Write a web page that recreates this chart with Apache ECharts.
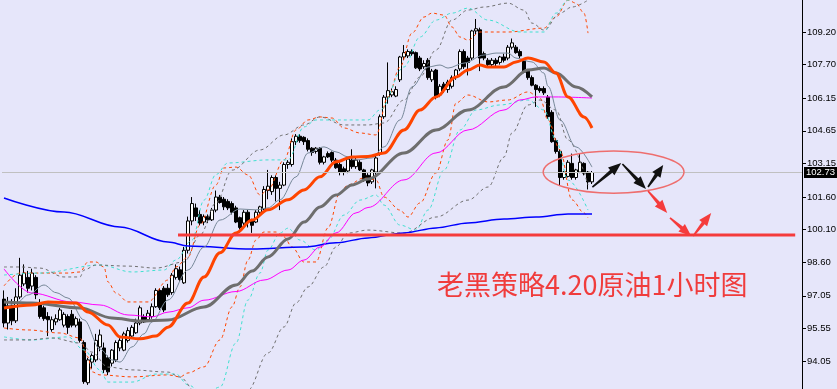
<!DOCTYPE html>
<html><head><meta charset="utf-8">
<script src="https://cdn.jsdelivr.net/npm/echarts@6/dist/echarts.min.js"></script>
<style>html,body{margin:0;padding:0;background:#e6e6fa}#c{width:837px;height:389px}</style>
</head><body><div id="c"></div>
<script>
// ---- candles (1H bars) ----
const open  = [96.9,95.8,96.6,95.9,97.0,97.6,97.9,97.5,97.9,96.7,96.5,96.1,95.5,95.85,95.95,95.7,96.1,96.2,95.7,95.85,
94.9,93.05,94.0,94.1,94.7,94.65,94.2,93.95,94.1,94.65,94.55,95.0,95.2,95.35,95.8,96.1,95.95,96.1,96.55,97.3,
97.4,97.4,97.2,97.9,98.25,97.65,99.15,100.5,101.1,100.8,100.45,100.7,100.55,101.0,101.6,101.5,101.4,101.3,101.1,100.65,
100.4,100.9,100.55,100.45,100.9,101.05,101.9,101.85,102.5,102.0,102.15,103.1,103.1,104.15,104.4,104.35,104.2,103.85,103.7,103.85,
103.2,103.6,103.65,103.3,103.1,102.9,102.8,103.3,103.0,103.2,102.85,102.6,102.3,102.75,103.6,105.3,106.2,106.3,106.25,107.0,
108.05,108.1,108.3,108.25,108.0,107.6,107.9,107.0,107.45,106.3,106.8,106.55,106.7,107.1,107.5,108.3,108.0,108.0,109.25,109.3,
108.2,107.9,107.7,107.9,107.8,108.05,108.0,108.5,108.5,108.3,107.85,107.4,107.1,106.75,106.6,106.6,106.2,105.5,104.2,103.7,
102.5,102.55,103.15,102.5,102.75,103.15,102.75,102.3];
const close = [95.8,96.6,95.9,97.0,98.0,98.1,97.4,98.1,97.1,96.1,96.0,95.95,95.95,96.0,96.4,96.2,95.6,95.7,96.0,95.0,
93.1,94.1,94.3,95.0,95.25,93.65,93.55,94.55,94.9,95.0,95.3,95.45,95.6,95.8,96.5,95.85,96.25,96.55,97.3,96.5,
96.4,97.1,98.0,98.3,97.8,99.15,100.5,101.3,100.7,100.4,100.7,100.55,101.0,101.6,101.35,101.15,101.1,100.9,100.45,100.2,
100.9,100.45,100.3,100.9,101.15,101.95,102.1,102.5,102.0,102.15,103.1,103.2,104.15,104.4,104.2,104.15,103.8,103.65,103.85,103.2,
103.45,103.45,103.3,102.95,102.75,102.75,103.35,103.0,103.3,102.85,102.4,102.25,102.85,103.4,105.3,106.2,106.5,106.45,106.55,108.05,
108.25,108.3,108.2,107.55,107.5,107.75,107.1,107.4,106.2,106.7,106.55,106.9,107.1,107.45,108.3,107.6,107.8,109.25,109.35,108.0,
108.0,107.7,107.9,107.75,108.05,107.9,108.5,108.7,108.25,108.1,107.35,107.1,106.75,106.55,106.5,106.4,105.3,104.15,103.7,102.5,
102.75,103.2,102.5,102.85,103.2,102.7,102.3,102.73];
const low   = [95.6,95.5,95.7,95.8,96.9,97.5,97.2,97.3,96.9,96.0,95.9,95.2,95.4,95.7,95.9,95.6,95.3,95.6,95.6,94.9,
93.0,92.95,93.7,94.0,94.5,93.5,93.4,93.8,94.0,94.5,94.5,94.9,95.1,95.3,95.7,95.8,95.9,96.0,96.5,96.4,
96.3,97.0,97.1,97.8,97.7,97.6,99.0,100.3,100.5,100.3,100.3,100.4,100.5,100.9,101.3,101.0,101.0,100.8,100.4,100.1,
100.3,100.2,99.95,100.4,100.8,101.0,101.5,101.7,101.4,101.0,102.1,102.9,103.0,104.0,104.1,104.0,103.7,103.5,103.6,103.1,
103.1,103.4,103.2,102.9,102.6,102.6,102.7,102.9,102.9,102.8,102.3,102.1,102.2,102.0,103.5,105.2,105.9,106.2,106.2,106.9,
107.9,108.0,108.1,107.5,107.4,107.5,107.0,106.9,106.1,106.2,106.4,106.4,106.6,107.0,107.4,107.5,107.2,107.9,109.1,107.4,
107.9,107.6,107.6,107.6,107.7,107.8,107.9,108.4,108.2,108.0,107.3,107.0,106.7,105.75,106.4,106.3,105.2,104.1,103.6,102.15,
102.4,102.5,102.4,102.4,102.7,102.6,101.95,102.2];
const high  = [97.3,97.0,96.9,97.4,98.8,98.5,98.2,98.3,98.0,96.9,96.6,96.3,96.1,96.2,96.5,96.3,96.2,96.4,96.1,96.0,
95.0,94.2,94.4,95.3,95.5,94.9,94.3,94.6,95.0,95.1,95.4,95.6,95.7,96.0,96.6,96.2,96.4,96.7,97.4,97.4,
97.5,97.6,98.1,98.5,98.4,99.3,100.7,101.6,101.3,101.0,100.8,100.8,101.1,101.9,101.7,101.6,101.5,101.4,101.2,100.7,
101.0,101.0,100.6,101.0,101.2,102.1,102.85,102.6,102.6,102.3,103.2,103.3,104.3,104.5,104.5,104.4,104.3,103.9,103.9,103.9,
103.5,103.7,103.7,103.4,103.2,103.0,103.4,103.8,103.4,103.3,102.9,102.7,102.9,103.5,105.4,106.3,107.8,106.6,106.7,108.1,
108.6,108.4,108.4,108.3,108.1,107.9,108.0,107.5,107.5,106.8,106.9,107.0,107.2,107.5,108.4,108.4,108.1,109.3,109.8,109.4,
108.3,108.0,108.0,108.0,108.1,108.2,108.6,108.9,108.6,108.4,107.9,107.5,107.2,106.8,106.7,106.7,106.3,105.6,104.3,103.8,
102.8,103.3,103.6,102.9,103.6,103.2,102.8,102.8];
const lastPrice = 102.73;

// ---- moving averages, read as [bar index, price] ----
const maFast = [[0,96.5],[3,96.7],[6,97.09],[10,97.55],[13,97.2],[16,96.95],[20,95.94],[24,94.6],[27,94.1],[29,94.0],[32,94.7],[35,95.3],[37,95.85],[41,96.86],[46,98.24],[50,99.3],[54,100.54],[59,101.05],[63,101.01],[66,101.1],[69,101.47],[73,102.53],[76,103.63],[80,103.91],[83,103.68],[86,103.45],[88,103.31],[92,103.4],[95,103.91],[99,105.15],[102,106.67],[106,107.59],[109,107.68],[111,107.54],[115,107.77],[120,108.14],[123,108.23],[126,108.23],[128,108.0],[132,107.82],[135,107.31],[136,106.7],[139,105.15],[143,103.91],[147,102.98]];
const maOrange = [[0,96.49],[7,96.63],[11,96.77],[18,96.72],[21,96.31],[26,95.71],[29,95.16],[34,95.07],[38,95.2],[41,95.61],[46,96.72],[50,97.92],[54,99.03],[58,99.95],[62,100.54],[66,101.01],[71,101.47],[75,101.93],[79,102.53],[83,103.22],[87,103.45],[91,103.47],[95,103.63],[100,104.69],[104,105.61],[108,106.21],[113,107.13],[116,107.45],[119,107.68],[121,107.59],[125,107.59],[128,107.82],[131,108.0],[135,107.82],[138,107.31],[141,106.21],[145,105.29],[147,104.78]];
const maGrey = [[0,96.77],[7,96.72],[19,96.49],[27,96.03],[34,95.89],[41,95.94],[50,96.54],[58,97.55],[62,98.19],[66,98.84],[71,99.67],[75,100.45],[79,101.14],[83,101.69],[87,102.16],[91,102.43],[100,103.63],[108,104.69],[116,105.61],[125,106.67],[131,107.45],[135,107.54],[138,107.31],[143,106.67],[147,106.21]];
const maMagenta = [[0,98.29],[7,97.18],[17,96.77],[24,96.63],[31,96.17],[37,96.08],[41,96.3],[46,96.5],[50,96.85],[58,97.25],[65,97.78],[71,98.24],[75,98.7],[79,99.3],[83,99.95],[88,100.87],[91,101.12],[100,102.39],[108,103.63],[116,104.69],[125,105.61],[129,106.07],[133,106.21],[138,106.21],[147,106.16]];
const maBlue = [[0,101.56],[15,100.91],[29,100.22],[41,99.53],[46,99.35],[62,99.21],[75,99.3],[83,99.49],[91,99.72],[100,99.95],[108,100.18],[116,100.41],[125,100.59],[133,100.68],[141,100.82],[147,100.82]];

// ---- Bollinger-type bands ----
const orangeUpper = [[0,97.51],[4,98.1],[16,98.1],[19,98.15],[21,98.61],[23,98.61],[25,98.38],[26,97.69],[28,97.18],[31,96.77],[36,96.77],[41,97.78],[43,98.38],[46,98.84],[49,100.31],[53,102.16],[55,102.94],[58,102.98],[61,102.62],[64,101.7],[66,101.93],[70,103.31],[73,104.69],[76,105.15],[79,105.29],[82,105.24],[85,104.78],[89,104.55],[93,104.46],[96,106.21],[99,107.59],[102,109.15],[105,109.89],[107,110.07],[110,109.98],[112,109.43],[114,108.97],[116,108.83],[119,109.2],[126,109.2],[135,109.38],[138,109.89],[141,110.67],[143,110.53],[145,110.07],[146,109.15]];
const orangeLower = [[0,95.57],[6,95.48],[14,95.34],[19,95.11],[21,94.24],[22,93.55],[24,93.41],[32,93.32],[41,93.41],[44,93.32],[46,93.5],[50,93.78],[54,95.02],[57,96.54],[59,97.46],[61,98.7],[63,99.62],[65,99.99],[68,99.99],[70,99.76],[72,99.3],[75,98.61],[78,98.61],[81,100.18],[84,101.79],[86,102.16],[90,102.48],[93,102.39],[95,101.6],[99,101.0],[101,100.68],[104,101.33],[108,102.71],[111,104.23],[113,105.93],[116,106.3],[121,105.98],[126,106.07],[131,106.44],[134,106.16],[136,105.15],[139,103.77],[142,101.47],[145,100.87],[146,100.64]];
const cyanUpper = [[0,98.01],[9,98.1],[24,98.47],[32,98.15],[40,98.24],[43,98.7],[47,99.62],[50,101.46],[53,102.64],[56,103.17],[66,103.31],[71,103.31],[75,104.83],[78,105.15],[91,105.15],[94,105.61],[100,107.59],[104,108.97],[108,109.75],[112,110.07],[116,110.3],[121,109.75],[129,109.2],[135,109.2],[138,110.07],[141,110.67],[146,111.13]];
const cyanLower = [[0,95.16],[7,95.02],[16,95.16],[20,94.56],[24,93.64],[26,93.08],[32,93.08],[38,93.45],[43,93.45],[46,92.95],[50,92.49],[54,92.85],[58,94.88],[61,96.86],[64,98.1],[66,99.16],[69,99.94],[71,100.17],[74,99.62],[78,99.16],[81,99.62],[85,100.77],[89,101.46],[93,101.69],[95,101.23],[99,100.31],[103,100.08],[106,101.0],[110,102.84],[114,104.69],[118,105.61],[124,105.84],[131,106.07],[135,105.61],[138,104.23],[141,102.38],[146,101.0]];
const greyUpper = [[0,98.38],[4,98.38],[9,98.33],[15,97.92],[19,97.92],[20,98.24],[23,98.47],[31,98.42],[38,98.33],[45,98.61],[49,99.85],[53,101.33],[57,102.84],[64,103.77],[70,104.46],[75,104.92],[79,105.29],[85,104.92],[91,104.92],[95,105.01],[100,106.07],[104,107.13],[108,108.37],[112,109.75],[116,110.21],[120,110.35],[126,110.53],[130,110.21],[132,109.61],[135,109.29],[139,110.07],[142,110.35],[146,110.67]];
const greyLower = [[0,95.02],[6,95.02],[12,95.11],[19,94.88],[22,94.46],[26,93.77],[32,93.64],[41,93.54],[44,93.31],[48,92.62],[61,92.71],[66,94.42],[70,95.62],[73,96.72],[76,97.46],[80,98.38],[83,99.3],[86,99.94],[91,100.08],[100,99.94],[108,100.68],[116,101.46],[121,102.06],[125,103.44],[127,104.55],[131,105.84],[134,106.07],[138,105.61],[141,104.23],[146,102.16]];

// ---- axis ----
const slotCount = 200;
const categories = Array.from({length: slotCount}, (_, i) => String(i));
const yTicks = [94.05, 95.55, 97.05, 98.60, 100.10, 101.60, 103.15, 104.65, 106.15, 107.70, 109.20];
const yMin = 92.761, yMax = 110.674;

// ---- drawn annotations (bar index, price) ----
const supportLevel = 99.85;
const supportSpan = [43.5, 197.8];
const zoneCenter = [152.4, 102.75];
const zoneRadius = [17.6, 0.97];
const blackArrows = [[[147.1,102.06],[154.3,103.17]], [[154.6,103.12],[160.5,101.97]], [[161.0,102.06],[164.8,103.08]]];
const redArrows = [[[161.0,101.88],[165.8,100.87]], [[166.5,100.64],[171.8,99.81]], [[172.3,99.81],[176.8,100.87]]];
const titleText = '老黑策略4.20原油1小时图';

const chart = echarts.init(document.getElementById('c'), null, {renderer: 'canvas'});
const candleData = open.map((o, i) => [o, close[i], low[i], high[i]]);
const axisFont = '"Liberation Sans", Arial, sans-serif';

function line(name, data, color, width, dashed) {
  return {
    name, type: 'line', data, xAxisIndex: 0, yAxisIndex: 0,
    showSymbol: false, symbol: 'none', smooth: 0.35, smoothMonotone: 'x',
    lineStyle: {color, width, type: dashed ? [3, 3] : 'solid'},
    silent: true, animation: false
  };
}

const option = {
  backgroundColor: '#e6e6fa',
  animation: false,
  grid: {left: 2, right: 35, top: 0, bottom: 0, containLabel: false, outerBoundsMode: 'none'},
  xAxis: [
    {type: 'category', data: categories, boundaryGap: true, show: false},
    {type: 'value', min: -0.5, max: slotCount - 0.5, show: false}
  ],
  yAxis: {
    type: 'value', position: 'right', min: yMin, max: yMax, scale: true,
    axisLine: {show: true, onZero: false, lineStyle: {color: '#000', width: 1}},
    axisTick: {show: true, customValues: yTicks, length: 4, lineStyle: {color: '#000'}},
    axisLabel: {show: true, customValues: yTicks, formatter: v => v.toFixed(2), color: '#000',
      fontSize: 9.5, fontFamily: axisFont, margin: 5},
    splitLine: {show: false}
  },
  series: [
    line('BB orange up', orangeUpper, '#ff4500', 1, true),
    line('BB orange dn', orangeLower, '#ff4500', 1, true),
    line('BB cyan up', cyanUpper, '#40e0d0', 1, true),
    line('BB cyan dn', cyanLower, '#40e0d0', 1, true),
    line('BB grey up', greyUpper, '#707070', 1, true),
    line('BB grey dn', greyLower, '#707070', 1, true),
    {
      type: 'candlestick', data: candleData, barWidth: 3,
      itemStyle: {color: '#ffffff', color0: '#000000', borderColor: '#000000', borderColor0: '#000000', borderWidth: 1},
      markLine: {
        silent: true, symbol: ['none', 'none'], animation: false,
        data: [{yAxis: lastPrice}],
        lineStyle: {color: '#c0c0c0', width: 1, type: 'solid'},
        label: {position: 'end', formatter: lastPrice.toFixed(2), backgroundColor: '#000', color: '#fff',
          padding: [1, 2, 0, 2], fontSize: 9.5, fontFamily: axisFont, distance: 2}
      }
    },
    line('MA blue', maBlue, '#0000ff', 1.5, false),
    line('MA magenta', maMagenta, '#ff00ff', 1, false),
    line('MA fast', maFast, '#778899', 1, false),
    line('MA grey', maGrey, '#6e6e6e', 3, false),
    line('MA orange', maOrange, '#ff4500', 3, false)
  ]
};
chart.setOption(option);

const P = (x, y) => chart.convertToPixel({xAxisIndex: 1, yAxisIndex: 0}, [x, y]);
function arrow(a, b, color) {
  const p0 = P(a[0], a[1]), p1 = P(b[0], b[1]);
  const dx = p1[0] - p0[0], dy = p1[1] - p0[1], L = Math.hypot(dx, dy);
  const ux = dx / L, uy = dy / L, nx = -uy, ny = ux;
  const hl = Math.min(13, L * 0.45), hw = 5;
  const bx = p1[0] - ux * hl, by = p1[1] - uy * hl;
  const pts = [
    [p0[0] + nx * 0.8, p0[1] + ny * 0.8], [bx + nx * 1.8, by + ny * 1.8], [bx + nx * hw, by + ny * hw], p1,
    [bx - nx * hw, by - ny * hw], [bx - nx * 1.8, by - ny * 1.8], [p0[0] - nx * 0.8, p0[1] - ny * 0.8]
  ];
  return {type: 'polygon', shape: {points: pts}, style: {fill: color}, z: 100, silent: true};
}
const c = P(zoneCenter[0], zoneCenter[1]);
const rx = P(zoneCenter[0] + zoneRadius[0], zoneCenter[1])[0] - c[0];
const ry = c[1] - P(zoneCenter[0], zoneCenter[1] + zoneRadius[1])[1];
const s0 = P(supportSpan[0], supportLevel), s1 = P(supportSpan[1], supportLevel);
const graphics = [
  {type: 'line', shape: {x1: s0[0], y1: s0[1], x2: s1[0], y2: s1[1]}, style: {stroke: '#f53c3c', lineWidth: 3}, z: 99, silent: true},
  {type: 'ellipse', shape: {cx: c[0], cy: c[1], rx, ry}, style: {stroke: '#ee6e6e', lineWidth: 1.5, fill: 'none'}, z: 100, silent: true},
  {type: 'text', x: 437, y: 285, style: {text: titleText, fill: '#f03c3c', font: '27px "Noto Sans CJK SC", sans-serif', textVerticalAlign: 'middle'}, z: 100, silent: true}
];
blackArrows.forEach(a => graphics.push(arrow(a[0], a[1], '#111111')));
redArrows.forEach(a => graphics.push(arrow(a[0], a[1], '#f53c3c')));
chart.setOption({graphic: graphics});
</script></body></html>
